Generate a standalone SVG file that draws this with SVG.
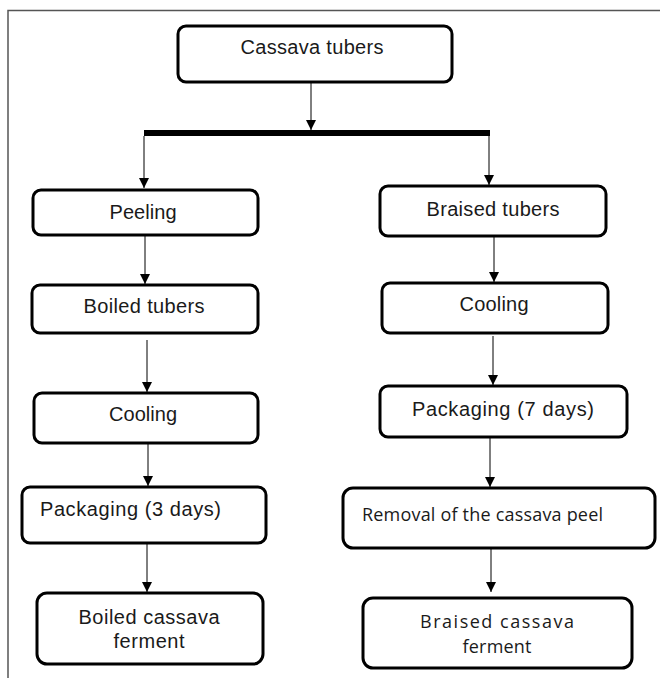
<svg xmlns="http://www.w3.org/2000/svg" width="660" height="678" viewBox="0 0 660 678">
<defs>
<marker id="ah" viewBox="0 0 10 10" refX="10" refY="5" markerWidth="10" markerHeight="10" markerUnits="userSpaceOnUse" orient="auto">
<path d="M0,0 L10,5 L0,10 Z" fill="#000"/>
</marker>
</defs>
<style>
.box{fill:#fff;stroke:#000;stroke-width:3}
.t{font-family:"Liberation Sans",Arial,sans-serif;font-size:20px;fill:#1a1a1a;text-anchor:middle}
.c{font-family:"Open Sans","Noto Sans",sans-serif;font-size:18px;fill:#1a1a1a;text-anchor:middle}
.l{fill:none;stroke:#000;stroke-width:1}
</style>
<rect width="660" height="678" fill="#fff"/>
<path d="M8,678 V10.5 H660" fill="none" stroke="#555" stroke-width="1.5"/>
<g id="connectors">
<line class="l" x1="311" y1="83" x2="311" y2="130" marker-end="url(#ah)"/>
<rect x="144" y="130" width="346" height="6" fill="#000"/>
<line class="l" x1="144" y1="136" x2="144" y2="188" marker-end="url(#ah)"/>
<line class="l" x1="489" y1="136" x2="489" y2="185" marker-end="url(#ah)"/>
<line class="l" x1="145" y1="236" x2="145" y2="284" marker-end="url(#ah)"/>
<line class="l" x1="147" y1="340" x2="147" y2="392" marker-end="url(#ah)"/>
<line class="l" x1="148" y1="444" x2="148" y2="486" marker-end="url(#ah)"/>
<line class="l" x1="147" y1="544" x2="147" y2="592" marker-end="url(#ah)"/>
<line class="l" x1="494" y1="237" x2="494" y2="282" marker-end="url(#ah)"/>
<line class="l" x1="493" y1="336" x2="493" y2="385" marker-end="url(#ah)"/>
<line class="l" x1="490" y1="438" x2="490" y2="487" marker-end="url(#ah)"/>
<line class="l" x1="491" y1="549" x2="491" y2="592" marker-end="url(#ah)"/>
</g>
<g id="n-cassava"><rect class="box" x="178" y="26" width="274" height="56" rx="8"/><text class="t" x="312" y="54" textLength="143">Cassava tubers</text></g>
<g id="n-peeling"><rect class="box" x="33" y="190" width="225" height="45" rx="8"/><text class="t" x="143" y="219" textLength="67">Peeling</text></g>
<g id="n-boiled"><rect class="box" x="32" y="285" width="226" height="48" rx="8"/><text class="t" x="144" y="313" textLength="121">Boiled tubers</text></g>
<g id="n-cooling1"><rect class="box" x="34" y="393" width="224" height="50" rx="8"/><text class="t" x="143" y="421" textLength="68">Cooling</text></g>
<g id="n-pack3"><rect class="box" x="22" y="487" width="244" height="56" rx="8"/><text class="t" x="40" y="516" style="text-anchor:start" textLength="181">Packaging (3 days)</text></g>
<g id="n-boiledferment"><rect class="box" x="37" y="593" width="226" height="71" rx="10"/><text class="t" x="149" y="624" textLength="141">Boiled cassava</text><text class="t" x="149" y="648" textLength="71">ferment</text></g>
<g id="n-braised"><rect class="box" x="380" y="186" width="226" height="50" rx="8"/><text class="t" x="493" y="216" textLength="133">Braised tubers</text></g>
<g id="n-cooling2"><rect class="box" x="382" y="283" width="226" height="50" rx="8"/><text class="t" x="494" y="311" textLength="69">Cooling</text></g>
<g id="n-pack7"><rect class="box" x="380" y="386" width="247" height="51" rx="8"/><text class="t" x="503" y="416" textLength="182">Packaging (7 days)</text></g>
<g id="n-removal"><rect class="box" x="343" y="488" width="312" height="60" rx="10"/><text class="c" x="362" y="521" style="text-anchor:start" textLength="241">Removal of the cassava peel</text></g>
<g id="n-braisedferment"><rect class="box" x="363" y="598" width="269" height="70" rx="10"/><text class="c" x="497" y="628" textLength="154">Braised cassava</text><text class="c" x="497" y="653" textLength="69">ferment</text></g>
</svg>
